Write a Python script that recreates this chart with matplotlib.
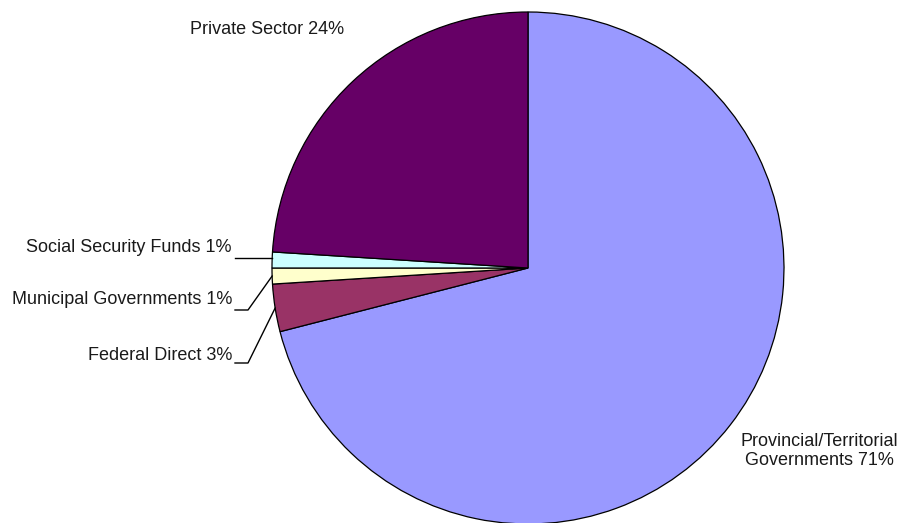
import numpy as np
import matplotlib.pyplot as plt

# slices in drawing order, clockwise from 12 o'clock
labels = ['Provincial/Territorial\nGovernments', 'Federal Direct', 'Municipal Governments',
          'Social Security Funds', 'Private Sector']
shares = [71, 3, 1, 1, 24]
colors = ['#9999FF', '#993366', '#FFFFCC', '#CCFFFF', '#660066']

W, H = 899, 523
fig = plt.figure(figsize=(W / 100, H / 100), dpi=100)
ax = fig.add_axes([0, 0, 1, 1])

cx, cy, r = 528, H - 268, 256
wedges, _ = ax.pie(shares, colors=colors, startangle=90, counterclock=False,
                   center=(cx, cy), radius=r, frame=True,
                   wedgeprops=dict(edgecolor='black', linewidth=0.9))
ax.set_xlim(0, W)
ax.set_ylim(0, H)
ax.set_aspect('equal')
ax.axis('off')

font = dict(family='Liberation Sans', fontsize=13, color='#1a1a1a')

# label placement (pixel coords from top-left), and leader style
# (text x, text y, ha, leader line y or None)
place = [
    (819, 451, 'center', None),
    (232, 356, 'right', 363),
    (232, 299, 'right', 310),
    (232, 248, 'right', 258),
    (190, 30, 'left', None),
]

cum = 0
for lab, s, (tx, ty, ha, ly) in zip(labels, shares, place):
    mid = np.deg2rad(90 - (cum + s / 2) * 3.6)
    cum += s
    ax.text(tx, H - ty, f'{lab} {s}%', ha=ha, va='center', multialignment='center',
            linespacing=1.2, **font)
    if ly is None:
        continue
    ex, ey = cx + r * np.cos(mid), cy + r * np.sin(mid)
    if abs(ey - (H - ly)) < 4:
        ax.plot([235, ex], [H - ly, H - ly], color='black', lw=1)
    else:
        ax.plot([235, 248, ex], [H - ly, H - ly, ey], color='black', lw=1)

fig.savefig('out.png', dpi=100, facecolor='white')
